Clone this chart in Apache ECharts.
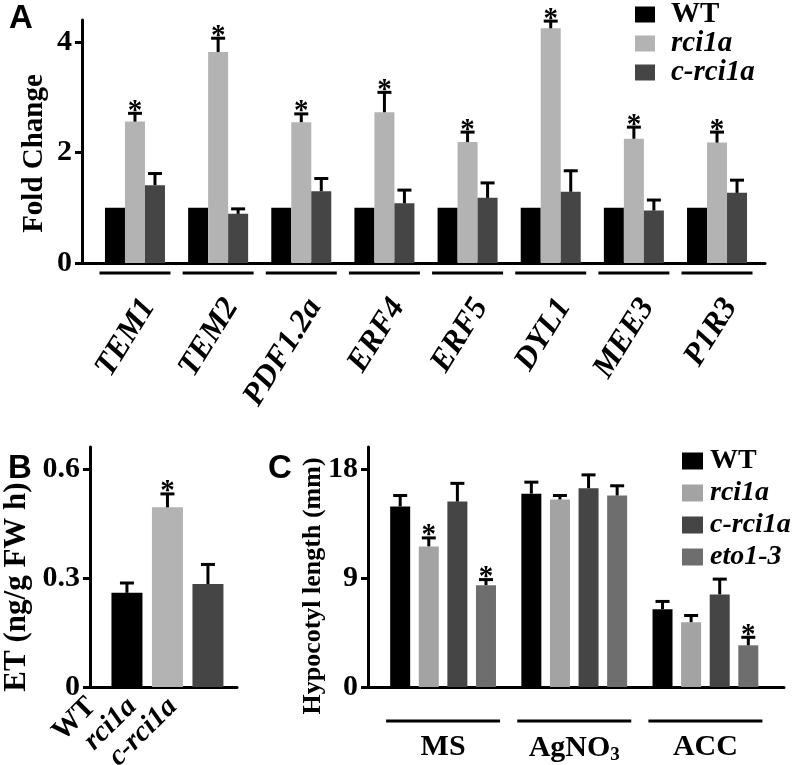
<!DOCTYPE html>
<html>
<head>
<meta charset="utf-8">
<script src="https://cdn.jsdelivr.net/npm/echarts@6/dist/echarts.min.js"></script>
<style>
html,body{margin:0;padding:0;background:#fff;}
#chart{width:796px;height:765px;}
</style>
</head>
<body>
<div id="chart"></div>
<script>
// ---------- Panel A data ----------
const genes = ['TEM1','TEM2','PDF1.2a','ERF4','ERF5','DYL1','MEE3','P1R3'];
const foldWT = [1,1,1,1,1,1,1,1];
const foldRci = [2.56,3.82,2.55,2.73,2.19,4.25,2.25,2.18];
const foldRciErr = [0.15,0.25,0.15,0.36,0.18,0.13,0.21,0.19];
const foldCrci = [1.41,0.89,1.30,1.08,1.18,1.29,0.95,1.27];
const foldCrciErr = [0.21,0.09,0.23,0.24,0.27,0.38,0.19,0.23];
const foldRciSig = [1,1,1,1,1,1,1,1];
const foldTicks = [0,2,4];

// ---------- Panel B data ----------
const etGenotypes = ['WT','rci1a','c-rci1a'];
const etValues = [0.259,0.494,0.283];
const etErr = [0.027,0.037,0.054];
const etSig = [0,1,0];
const etTicks = [0,0.3,0.6];

// ---------- Panel C data ----------
const treatments = ['MS','AgNO3','ACC'];
const hypoWT = [14.9,15.95,6.42];
const hypoWTErr = [0.9,0.95,0.64];
const hypoRci = [11.6,15.47,5.35];
const hypoRciErr = [0.7,0.33,0.55];
const hypoCrci = [15.3,16.4,7.64];
const hypoCrciErr = [1.5,1.1,1.26];
const hypoEto = [8.4,15.8,3.44];
const hypoEtoErr = [0.46,0.8,0.66];
const hypoRciSig = [1,0,0];
const hypoEtoSig = [1,0,1];
const hypoTicks = [0,9,18];

// ---------- styles ----------
const SERIF = '"Liberation Serif","Times New Roman",serif';
const SANS = '"Liberation Sans",Arial,sans-serif';
const C_WT = '#000000', C_RCI = '#b3b3b3', C_CRCI = '#454545', C_RCI_C = '#a3a3a3', C_ETO = '#6e6e6e';
function bold(size) { return {fontFamily: SERIF, fontWeight: 'bold', fontSize: size, color: '#000'}; }
function boldItalic(size, extra) { return Object.assign({fontFamily: SERIF, fontWeight: 'bold', fontStyle: 'italic', fontSize: size, color: '#000'}, extra || {}); }

const chart = echarts.init(document.getElementById('chart'), null, {renderer: 'canvas'});

function errSeries(name, xi, yi, vals, errs, sig, offset) {
  return {
    type: 'custom', name: name, xAxisIndex: xi, yAxisIndex: yi, silent: true, clip: false, z: 5,
    encode: {x: 0, y: 1},
    data: vals.map((v, i) => [i, v, errs[i], sig ? sig[i] : 0]),
    renderItem: function (params, api) {
      const idx = api.value(0), v = api.value(1), e = api.value(2), s = api.value(3);
      const p0 = api.coord([idx, v]);
      const p1 = api.coord([idx, v + e]);
      const x = p0[0] + offset;
      const children = [];
      if (e > 0) {
        children.push({type: 'line', shape: {x1: x, y1: p0[1], x2: x, y2: p1[1]}, style: {stroke: '#000', lineWidth: 3}});
        children.push({type: 'line', shape: {x1: x - 7, y1: p1[1], x2: x + 7, y2: p1[1]}, style: {stroke: '#000', lineWidth: 3}});
      }
      if (s) {
        children.push({type: 'text', style: {text: '*', x: x, y: p1[1] - 2, textAlign: 'center', textVerticalAlign: 'middle',
          font: 'bold 29px ' + SERIF, fill: '#000'}});
      }
      return {type: 'group', children: children};
    }
  };
}

function axisOnlyX(gridIndex) {
  return {type: 'category', gridIndex: gridIndex, data: ['a'], boundaryGap: true,
    axisLine: {show: true, lineStyle: {color: '#000', width: 3}}, axisTick: {show: false}, axisLabel: {show: false}, splitLine: {show: false}};
}
function hiddenCat(gridIndex, data, label) {
  return {type: 'category', gridIndex: gridIndex, data: data,
    axisLine: {show: false}, axisTick: {show: false}, splitLine: {show: false},
    axisLabel: label ? label : {show: false}};
}
function labelY(gridIndex, min, max, ticks, name, nameGap, nameSize, namePad) {
  return {type: 'value', gridIndex: gridIndex, min: min, max: max,
    axisLine: {show: true, lineStyle: {color: '#000', width: 3}},
    axisTick: {show: true, length: 7, lineStyle: {color: '#000', width: 3}, customValues: ticks},
    axisLabel: Object.assign({margin: 10, customValues: ticks}, bold(30)),
    splitLine: {show: false},
    name: name, nameLocation: 'middle', nameGap: nameGap, nameMoveOverlap: false,
    nameTextStyle: Object.assign({padding: namePad || 0}, bold(nameSize))};
}
function hiddenY(gridIndex, min, max) {
  return {type: 'value', gridIndex: gridIndex, min: min, max: max, show: false, splitLine: {show: false}};
}
function grid(left, top, width, height) {
  return {left: left, top: top, width: width, height: height, containLabel: false, outerBoundsMode: 'none'};
}
const titleStyle = {fontFamily: SANS, fontWeight: 'bold', fontSize: 33, color: '#000'};

const option = {
  backgroundColor: '#ffffff',
  animation: false,
  title: [
    {text: 'A', left: 9, top: 2, padding: 0, textStyle: titleStyle},
    {text: 'B', left: 8, top: 452, padding: 0, textStyle: titleStyle},
    {text: 'C', left: 268, top: 452, padding: 0, textStyle: titleStyle}
  ],
  legend: [
    {orient: 'vertical', left: 635, top: 0, padding: 0, itemWidth: 20, itemHeight: 16, itemGap: 0, icon: 'rect', selectedMode: false,
      data: ['WT', 'rci1a', 'c-rci1a'],
      formatter: n => n === 'WT' ? n : '{i|' + n + '}',
      textStyle: Object.assign({padding: [0, 0, 0, 11], rich: {i: boldItalic(29)}}, bold(29))},
    {orient: 'vertical', left: 682, top: 447, padding: 0, itemWidth: 21, itemHeight: 17, itemGap: 4, icon: 'rect', selectedMode: false,
      data: [{name: 'WT', itemStyle: {color: C_WT}}, {name: 'rci1a', itemStyle: {color: C_RCI_C}},
             {name: 'c-rci1a', itemStyle: {color: C_CRCI}}, {name: 'eto1-3', itemStyle: {color: C_ETO}}],
      formatter: n => n === 'WT' ? n : '{i|' + n + '}',
      textStyle: Object.assign({padding: [0, 0, 0, 2], rich: {i: boldItalic(28)}}, bold(28))}
  ],
  grid: [
    grid(82, 20, 683, 243),        // 0 A axes
    grid(93.4, 20, 665.2, 243),    // 1 A bars
    grid(93.4, 271.5, 665.2, 3),   // 2 A underlines
    grid(90, 447, 147, 240),       // 3 B axes
    grid(106.7, 447, 121.5, 240),  // 4 B bars
    grid(368, 447, 416, 240),      // 5 C axes
    grid(377.5, 447, 393.5, 240),  // 6 C bars
    grid(377.5, 719.5, 393.5, 3)   // 7 C underlines
  ],
  xAxis: [
    axisOnlyX(0),
    hiddenCat(1, genes, Object.assign({show: true, rotate: 58, margin: 30, interval: 0, verticalAlign: 'top'}, boldItalic(32))),
    hiddenCat(2, genes),
    axisOnlyX(3),
    hiddenCat(4, etGenotypes, Object.assign({show: true, rotate: 45, margin: -20, interval: 0, padding: [0, 50, 0, 0],
      formatter: v => v === 'WT' ? v : '{i|' + v + '}', rich: {i: boldItalic(29)}}, bold(29))),
    axisOnlyX(5),
    hiddenCat(6, treatments, Object.assign({show: true, margin: 45, interval: 0,
      formatter: v => v === 'AgNO3' ? '{n|AgNO}{s|3}' : v,
      rich: {n: bold(30), s: Object.assign({padding: [14, 0, 0, 0]}, bold(19))}}, bold(30))),
    hiddenCat(7, treatments)
  ],
  yAxis: [
    labelY(0, 0, 4.4, foldTicks, 'Fold Change', 33, 29, [0, 24, 0, 0]),
    hiddenY(1, 0, 4.4),
    hiddenY(2, 0, 1),
    labelY(3, 0, 0.66, etTicks, 'ET (ng/g FW h)', 58, 31, [0, 40, 0, 0]),
    hiddenY(4, 0, 0.66),
    labelY(5, 0, 42, 26, [0, 38, 0, 0]),
    hiddenY(6, 0, 19.8),
    hiddenY(7, 0, 1)
  ],
  series: []
};
// fix C axis args (min, max, ticks, name)
option.yAxis[5] = labelY(5, 0, 19.8, hypoTicks, 'Hypocotyl length (mm)', 42, 26, [0, 38, 0, 0]);
option.series = [
    // Panel A
    {type: 'bar', name: 'WT', xAxisIndex: 1, yAxisIndex: 1, data: foldWT, barWidth: 20, barGap: '0%', itemStyle: {color: C_WT}},
    {type: 'bar', name: 'rci1a', xAxisIndex: 1, yAxisIndex: 1, data: foldRci, barWidth: 20, barGap: '0%', itemStyle: {color: C_RCI}},
    {type: 'bar', name: 'c-rci1a', xAxisIndex: 1, yAxisIndex: 1, data: foldCrci, barWidth: 20, barGap: '0%', itemStyle: {color: C_CRCI}},
    errSeries('errA1', 1, 1, foldRci, foldRciErr, foldRciSig, 0),
    errSeries('errA2', 1, 1, foldCrci, foldCrciErr, null, 20),
    {type: 'bar', name: 'lineA', xAxisIndex: 2, yAxisIndex: 2, data: genes.map(() => 1), barWidth: 71, itemStyle: {color: '#000'}, silent: true},
    // Panel B
    {type: 'bar', name: 'ET', xAxisIndex: 4, yAxisIndex: 4, barWidth: 31,
      data: etValues.map((v, i) => ({value: v, itemStyle: {color: [C_WT, C_RCI, C_CRCI][i]}}))},
    errSeries('errB', 4, 4, etValues, etErr, etSig, 0),
    // Panel C
    {type: 'bar', name: 'WT', xAxisIndex: 6, yAxisIndex: 6, data: hypoWT, barWidth: 20, barGap: '43%', barCategoryGap: '19%', itemStyle: {color: C_WT}},
    {type: 'bar', name: 'rci1a', xAxisIndex: 6, yAxisIndex: 6, data: hypoRci, barWidth: 20, barGap: '43%', itemStyle: {color: C_RCI_C}},
    {type: 'bar', name: 'c-rci1a', xAxisIndex: 6, yAxisIndex: 6, data: hypoCrci, barWidth: 20, barGap: '43%', itemStyle: {color: C_CRCI}},
    {type: 'bar', name: 'eto1-3', xAxisIndex: 6, yAxisIndex: 6, data: hypoEto, barWidth: 20, barGap: '43%', itemStyle: {color: C_ETO}},
    errSeries('errC0', 6, 6, hypoWT, hypoWTErr, null, -42.9),
    errSeries('errC1', 6, 6, hypoRci, hypoRciErr, hypoRciSig, -14.3),
    errSeries('errC2', 6, 6, hypoCrci, hypoCrciErr, null, 14.3),
    errSeries('errC3', 6, 6, hypoEto, hypoEtoErr, hypoEtoSig, 42.9),
    {type: 'bar', name: 'lineC', xAxisIndex: 7, yAxisIndex: 7, data: treatments.map(() => 1), barWidth: 114, itemStyle: {color: '#000'}, silent: true}
];
chart.setOption(option);
</script>
</body>
</html>
